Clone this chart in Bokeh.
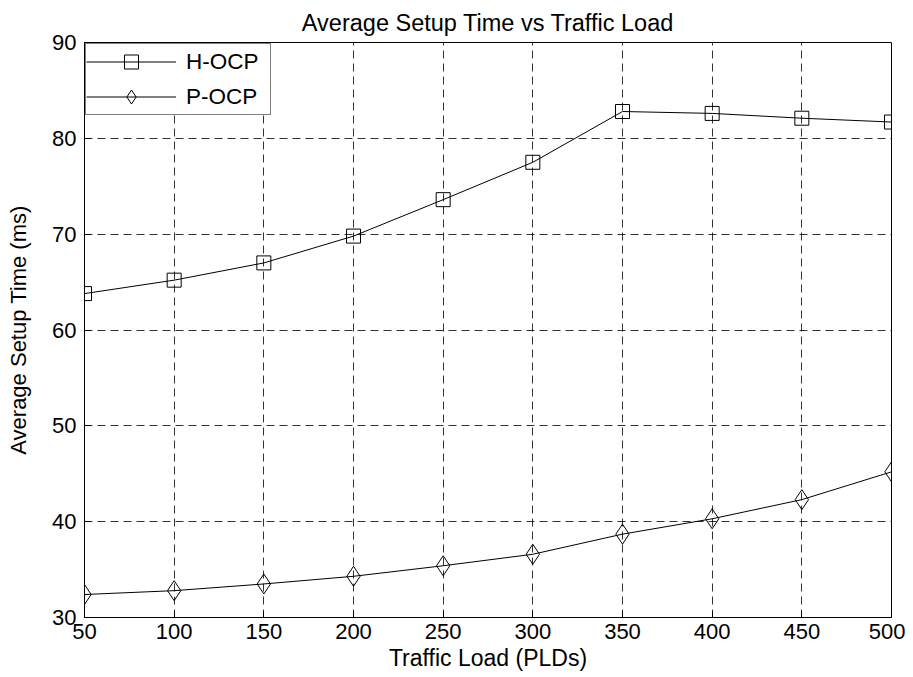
from bokeh.plotting import figure
from bokeh.models import Range1d, FixedTicker, Legend, LegendItem
from bokeh.embed import file_html
from bokeh.resources import INLINE

# ---- data ----
traffic_load = [50, 100, 150, 200, 250, 300, 350, 400, 450, 500]
h_ocp = [63.8, 65.2, 67.0, 69.8, 73.6, 77.5, 82.8, 82.6, 82.1, 81.7]
p_ocp = [32.4, 32.8, 33.5, 34.3, 35.4, 36.6, 38.7, 40.3, 42.3, 45.2]
x_ticks = [50, 100, 150, 200, 250, 300, 350, 400, 450, 500]
y_ticks = [30, 40, 50, 60, 70, 80, 90]

FONT = "Liberation Sans"

p = figure(width=905, height=677, output_backend="svg", toolbar_location=None,
           x_range=Range1d(50, 500), y_range=Range1d(30, 90),
           min_border_left=84, min_border_right=14, min_border_top=42, min_border_bottom=60,
           title="Average Setup Time vs Traffic Load")

p.title.align = "center"
p.title.text_font = FONT
p.title.text_font_size = "23.5px"
p.title.text_font_style = "normal"
p.title.text_color = "black"
p.title.standoff = 14

p.outline_line_color = "black"
p.outline_line_width = 1
p.outline_line_alpha = 1.0
p.background_fill_color = "white"
p.border_fill_color = "white"

for ax in (p.xaxis[0], p.yaxis[0]):
    ax.axis_line_color = "black"
    ax.major_tick_in = 6
    ax.major_tick_out = 0
    ax.minor_tick_in = 0
    ax.minor_tick_out = 0
    ax.major_tick_line_color = "black"
    ax.major_label_text_font = FONT
    ax.major_label_text_font_size = "22px"
    ax.major_label_text_color = "black"
    ax.axis_label_text_font = FONT
    ax.axis_label_text_font_size = "22px"
    ax.axis_label_text_font_style = "normal"
    ax.axis_label_text_color = "black"

p.xaxis.ticker = FixedTicker(ticks=x_ticks)
p.yaxis.ticker = FixedTicker(ticks=y_ticks)
p.xaxis.axis_label = "Traffic Load (PLDs)"
p.yaxis.axis_label = "Average Setup Time (ms)"
p.xaxis.axis_label_text_font_size = "23px"
p.xaxis.major_label_standoff = 6
p.xaxis.axis_label_standoff = 3
p.yaxis.major_label_standoff = 8
p.yaxis.axis_label_standoff = 18

for g, t in ((p.xgrid[0], x_ticks), (p.ygrid[0], y_ticks)):
    g.ticker = FixedTicker(ticks=t)
    g.grid_line_color = "black"
    g.grid_line_alpha = 0.8
    g.grid_line_width = 1
    g.grid_line_dash = "8 5"

h_line = p.line(traffic_load, h_ocp, line_color="black", line_width=1)
h_mark = p.scatter(traffic_load, h_ocp, marker="square", size=14,
                   fill_color=None, line_color="black", line_width=1)
p_line = p.line(traffic_load, p_ocp, line_color="black", line_width=1)
p_mark = p.scatter(traffic_load, p_ocp, marker="diamond", size=20,
                   fill_color=None, line_color="black", line_width=1)

legend = Legend(items=[LegendItem(label="H-OCP", renderers=[h_line, h_mark]),
                       LegendItem(label="P-OCP", renderers=[p_line, p_mark])],
                location="top_left")
legend.margin = 1
legend.padding = 0
legend.spacing = 0
legend.glyph_width = 90
legend.glyph_height = 35
legend.label_height = 20
legend.label_width = 84
legend.label_standoff = 10
legend.label_text_font = FONT
legend.label_text_font_size = "22.5px"
legend.label_text_color = "black"
legend.border_line_color = "black"
legend.border_line_width = 1
legend.background_fill_color = "white"
legend.background_fill_alpha = 1.0
p.add_layout(legend)

open("out.html", "w").write(file_html(p, INLINE))
